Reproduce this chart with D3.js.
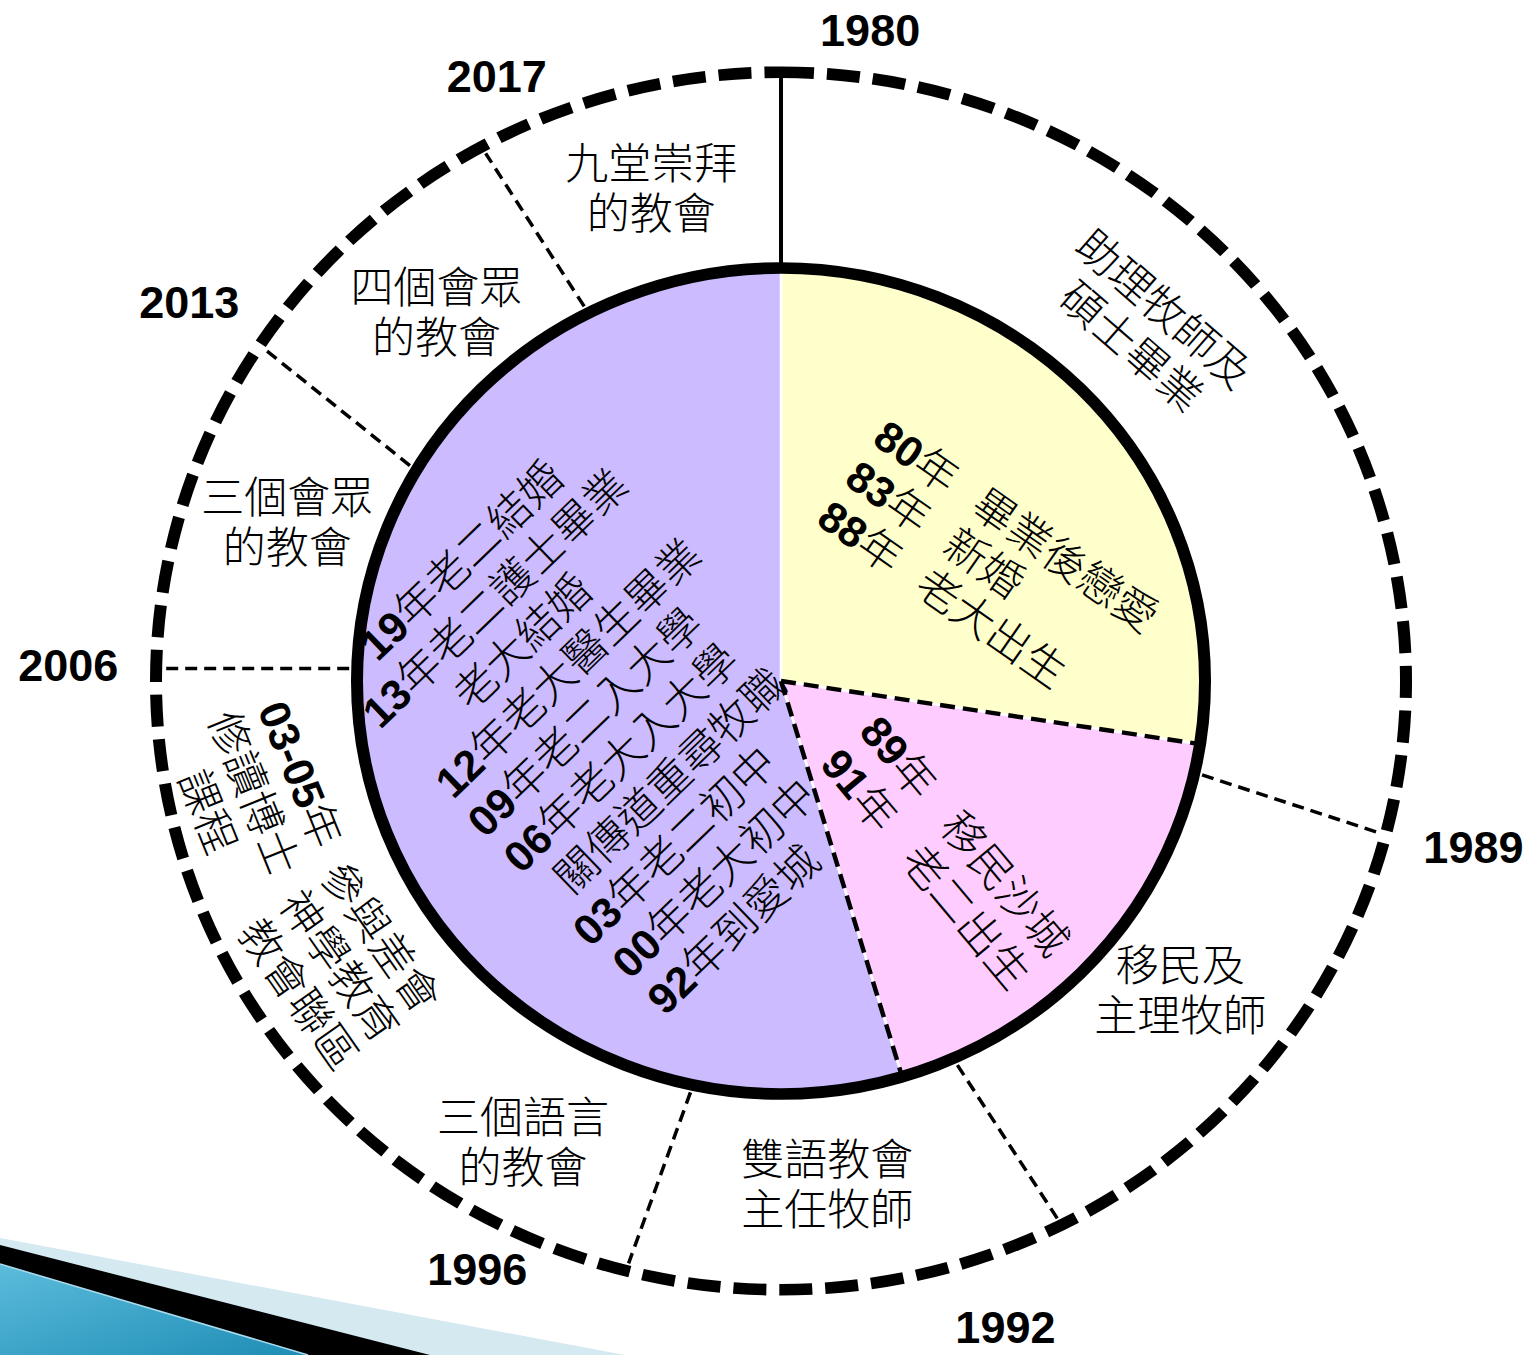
<!DOCTYPE html>
<html>
<head>
<meta charset="utf-8">
<script src="https://cdn.jsdelivr.net/npm/d3@7"></script>
<style>
  html, body { margin: 0; padding: 0; background: #fff; }
  svg { display: block; }
</style>
</head>
<body>
<svg id="chart" width="1537" height="1355"></svg>
<script>
// ---------------- data ----------------
const years = ["1980", "1989", "1992", "1996", "2006", "2013", "2017"];
// where each year's divider meets the inner circle / outer ring (deg, clockwise from 12 o'clock)
const yearInnerAngles = [0, 102.9, 155.9, 192.1, 271.7, 300.8, 332.9];
const yearOuterAngles = [0, 104.6, 153.4, 194.3, 271.2, 303.4, 331.4];

// inner pie: three family periods (span in degrees)
const periods = ["1980-1988", "1989-1991", "1992-2019"];
const periodSpans = [98.8, 64.6, 196.6];
const periodColors = ["#FFFFCC", "#FFCCFF", "#CCBBFF"];

const yellowNotes = ["80年 畢業後戀愛", "83年 新婚", "88年 老大出生"];
const pinkNotes = ["89年 移民沙城", "91年 老二出生"];
const purpleNotes = ["19年老二結婚", "13年老二護士畢業", "老大結婚", "12年老大醫生畢業",
  "09年老二入大學", "06年老大入大學", "關傳道重尋牧職", "03年老二初中", "00年老大初中", "92年到愛城"];

// outer ring: ministry stages
const ringNotes = [
  ["助理牧師及", "碩士畢業"],
  ["移民及", "主理牧師"],
  ["雙語教會", "主任牧師"],
  ["三個語言", "的教會"],
  ["參與差會", "神學教育", "教會聯區"],
  ["03-05年", "修讀博士", "課程"],
  ["三個會眾", "的教會"],
  ["四個會眾", "的教會"],
  ["九堂崇拜", "的教會"]
];

// ---------------- layout ----------------
const width = 1537, height = 1355;
const cx = 781, cy = 681, sy = 0.974;
const innerR = 424, outerR = 625;
const FONT = "'Liberation Sans', Arial, 'Noto Sans CJK TC', sans-serif";
const fs = 43;

const yearLabelPos = [[7.6, 674], [103.8, 713], [161.3, 700], [206.7, 676], [271.3, 713], [303.3, 708], [335.4, 683]];
const ringNotePos = [[45.3, 516, 41], [128.5, 510, 0], [174.9, 519, 0], [208.6, 539, 0], [236.5, 529, 55],
  [257.7, 539, 68], [288.3, 520, 0], [317.7, 512, 0], [345.6, 522, 0]];

const angle = d3.scaleLinear().domain([0, 360]).range([0, 2 * Math.PI]);
const polar = (deg, r) => [cx + r * Math.sin(angle(deg)), cy - r * Math.cos(angle(deg)) * sy];

const svg = d3.select("#chart");

//--------------- corner swoosh ---------------------------------------------//
const defs = svg.append("defs");
const grad = defs.append("linearGradient").attr("id", "swooshBlue")
  .attr("x1", "0").attr("y1", "0").attr("x2", "1").attr("y2", "1");
grad.append("stop").attr("offset", "0%").attr("stop-color", "#5cbcdc");
grad.append("stop").attr("offset", "100%").attr("stop-color", "#1f8db5");

const corner = svg.append("g");
corner.append("path").attr("d", "M0,1238L625,1355L0,1355Z").attr("fill", "#d5e9f1");
corner.append("path").attr("d", "M0,1245L430,1355L0,1355Z").attr("fill", "#000");
corner.append("path").attr("d", "M0,1264L308,1355L0,1355Z").attr("fill", "url(#swooshBlue)");
corner.append("path").attr("d", "M0,1264L308,1355").attr("stroke", "#a9dcee").attr("stroke-width", 1.5);

//--------------- pie + rings ------------------------------------------------//
const ring = svg.append("g").attr("transform", `translate(${cx},${cy}) scale(1,${sy})`);

const slices = d3.pie().sort(null).value(d => d)(periodSpans);
const arc = d3.arc().innerRadius(0).outerRadius(innerR);

ring.append("g").selectAll("path")
  .data(slices)
  .join("path")
  .attr("d", arc)
  .attr("fill", (d, i) => periodColors[i])
  .attr("stroke", "#fff")
  .attr("stroke-width", 2.5);

// dashed boundaries between yellow/pink and pink/purple
ring.append("g").selectAll("line")
  .data(slices.slice(1))
  .join("line")
  .attr("x1", 0).attr("y1", 0)
  .attr("x2", d => innerR * Math.sin(d.startAngle))
  .attr("y2", d => -innerR * Math.cos(d.startAngle))
  .attr("stroke", "#000")
  .attr("stroke-width", 4.5)
  .attr("stroke-dasharray", "15 8");

ring.append("circle")
  .attr("r", innerR)
  .attr("fill", "none")
  .attr("stroke", "#000")
  .attr("stroke-width", 12);

ring.append("path")
  .attr("d", d3.arc()({ innerRadius: 0, outerRadius: outerR, startAngle: 0, endAngle: 2 * Math.PI }))
  .attr("fill", "none")
  .attr("stroke", "#000")
  .attr("stroke-width", 12)
  .attr("stroke-dasharray", "33 13");

//--------------- year dividers ---------------------------------------------//
svg.append("g").selectAll("line")
  .data(years)
  .join("line")
  .each(function (d, i) {
    const solid = i === 0;
    const p1 = polar(yearInnerAngles[i], solid ? innerR : 432);
    const p2 = polar(yearOuterAngles[i], solid ? outerR : 617);
    d3.select(this)
      .attr("x1", p1[0]).attr("y1", p1[1])
      .attr("x2", p2[0]).attr("y2", p2[1])
      .attr("stroke", "#000")
      .attr("stroke-width", solid ? 4 : 3.5)
      .attr("stroke-dasharray", solid ? null : "12 7");
  });

svg.append("g").selectAll("text")
  .data(years)
  .join("text")
  .attr("x", (d, i) => polar(...yearLabelPos[i])[0])
  .attr("y", (d, i) => polar(...yearLabelPos[i])[1] + 16)
  .attr("text-anchor", "middle")
  .attr("font-family", FONT)
  .attr("font-weight", "bold")
  .attr("font-size", 45)
  .text(d => d);

//--------------- text helpers ----------------------------------------------//
function fillLine(text, str, gap) {
  const [head, tail] = str.split(" ");
  const m = head.match(/^([0-9\-]*)(.*)$/);
  if (m[1]) text.append("tspan").attr("font-weight", "bold").text(m[1]);
  if (m[2]) text.append("tspan").text(m[2]);
  if (tail) text.append("tspan").attr("dx", gap).text(tail);
}

function block(lines, o) {
  const g = svg.append("g").attr("transform", `translate(${o.x},${o.y}) rotate(${o.rotate || 0})`);
  const n = lines.length;
  lines.forEach((str, i) => {
    const row = o.centered ? i - (n - 1) / 2 : i;
    const t = g.append("text")
      .attr("x", o.indents ? o.indents[i] : 0)
      .attr("y", row * o.spacing + 0.37 * fs)
      .attr("text-anchor", o.centered ? "middle" : "start")
      .attr("font-family", FONT)
      .attr("font-weight", 300)
      .attr("font-size", fs)
      .attr("fill", "#000");
    fillLine(t, str, o.gap || 0);
  });
}

//--------------- inner notes -----------------------------------------------//
block(yellowNotes, { x: 880, y: 430, rotate: 35, spacing: 49, gap: 28 });
block(pinkNotes, { x: 870, y: 722, rotate: 50, spacing: 51, gap: 34 });
block(purpleNotes, {
  x: 375, y: 643, rotate: -44, spacing: 50.5,
  indents: [-12, -57, 21, -53, -57, -56, -34, -57, -51, -51]
});

//--------------- ring notes ------------------------------------------------//
ringNotes.forEach((lines, i) => {
  const [a, r, rot] = ringNotePos[i];
  const [x, y] = polar(a, r);
  block(lines, { x, y, rotate: rot, spacing: 50, centered: true });
});
</script>
</body>
</html>
